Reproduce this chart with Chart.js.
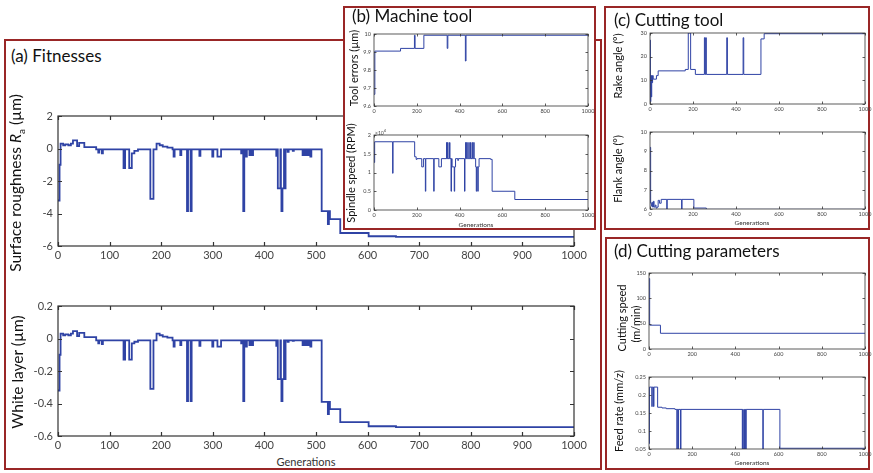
<!DOCTYPE html>
<html>
<head>
<meta charset="utf-8">
<script src="https://cdn.jsdelivr.net/npm/chart.js@4"></script>
<style>
  body { margin: 0; width: 873px; height: 473px; background: #fff; position: relative; overflow: hidden; font-family: Lato, 'Open Sans', sans-serif; color: #111; }
  .panel { position: absolute; border: 2px solid #992626; background: #fff; box-sizing: border-box; }
  .ptitle { position: absolute; font-size: 17px; line-height: 1; white-space: nowrap; }
  canvas { position: absolute; }
  .ytitle { position: absolute; white-space: nowrap; line-height: 1; transform: translate(-50%, -50%) rotate(-90deg); }
  .xtitle { position: absolute; white-space: nowrap; line-height: 1; transform: translate(-50%, -50%); color: #333; }
  .big { font-size: 15.5px; }
  .small { font-size: 11px; }
</style>
</head>
<body>

<div class="panel" style="left:4px;top:39px;width:598px;height:431px"></div>
<div class="ptitle" style="left:11px;top:47px">(a) Fitnesses</div>
<canvas id="c-ra"></canvas>
<canvas id="c-wl"></canvas>
<div class="ytitle big" style="left:17px;top:183px">Surface roughness <i>R</i><sub style="font-size:10px">a</sub> (µm)</div>
<div class="ytitle big" style="left:18px;top:372px">White layer (µm)</div>
<div class="xtitle" style="left:306px;top:461px;font-size:11px">Generations</div>

<div class="panel" style="left:343px;top:6px;width:253px;height:224px"></div>
<div class="ptitle" style="left:352px;top:7px">(b) Machine tool</div>
<canvas id="c-err"></canvas>
<canvas id="c-spd"></canvas>
<div class="ytitle small" style="left:353px;top:68px">Tool errors (µm)</div>
<div class="ytitle small" style="left:350px;top:173px">Spindle speed (RPM)</div>
<div style="position:absolute;left:375px;top:129px;font-size:5px;color:#444;line-height:1">×10<sup style="font-size:4px">4</sup></div>
<div class="xtitle" style="left:476px;top:225px;font-size:6.5px">Generations</div>

<div class="panel" style="left:604px;top:6px;width:266px;height:224px"></div>
<div class="ptitle" style="left:614px;top:11px">(c) Cutting tool</div>
<canvas id="c-rake"></canvas>
<canvas id="c-flank"></canvas>
<div class="ytitle small" style="left:617px;top:66px">Rake angle (°)</div>
<div class="ytitle small" style="left:617px;top:169px">Flank angle (°)</div>
<div class="xtitle" style="left:752px;top:223px;font-size:6.5px">Generations</div>

<div class="panel" style="left:605px;top:237px;width:265px;height:233px"></div>
<div class="ptitle" style="left:614px;top:242px">(d) Cutting parameters</div>
<canvas id="c-speed"></canvas>
<canvas id="c-feed"></canvas>
<div class="ytitle small" style="left:621px;top:318px">Cutting speed</div>
<div class="ytitle small" style="left:635px;top:324px">(m/min)</div>
<div class="ytitle small" style="left:618px;top:411px">Feed rate (mm/z)</div>
<div class="xtitle" style="left:752px;top:463px;font-size:6.5px">Generations</div>

<script>
// Each series is a list of generations where the best value changes and the value from there on.

// (a) fitnesses share the same change points
const fitGen = [0, 3, 5, 10, 14, 20, 25, 29, 37, 41, 51, 74, 78, 80, 85, 87, 127, 130, 138, 143, 148, 155,
  179, 185, 191, 197, 203, 212, 222, 224, 226, 237, 239, 250, 252, 257, 259, 274, 276, 299, 301, 309, 316,
  355, 357, 359, 361, 364, 366, 371, 373, 376, 378, 423, 425, 426, 431, 432, 433, 435, 438, 439, 441,
  445, 447, 455, 457, 474, 476, 479, 481, 484, 486, 489, 491, 511, 523, 525, 527, 547, 602, 655, 1000];
const roughness = [-3.2, -1.0, 0.3, 0.2, 0.25, 0.2, 0.3, 0.5, 0.15, 0.35, 0.08, -0.05, -0.25, -0.05, -0.3, -0.05, -1.2, -0.05, -1.2, -0.3, -0.15, -0.05,
  -3.1, -0.05, 0.3, 0.2, 0.12, 0.05, -0.05, -0.5, -0.05, -0.4, -0.05, -3.85, -0.05, -3.85, -0.05, -0.45, -0.05, -0.5, -0.05, -0.5, -0.05,
  -0.3, -0.05, -3.85, -0.05, -0.5, -0.05, -0.4, -0.05, -0.4, -0.05, -0.45, -0.05, -2.45, -0.05, -2.45, -3.85, -2.45, -0.05, -2.45, -0.05,
  -0.2, -0.05, -0.15, -0.05, -0.4, -0.05, -0.4, -0.05, -0.4, -0.05, -0.5, -0.05, -3.85, -4.65, -3.85, -4.35, -5.2, -5.4, -5.44, -5.44];
const whiteLayer = [-0.32, -0.1, 0.03, 0.02, 0.025, 0.02, 0.03, 0.045, 0.015, 0.035, 0.008, -0.011, -0.03, -0.011, -0.035, -0.011, -0.13, -0.011, -0.13, -0.03, -0.02, -0.011,
  -0.31, -0.011, 0.03, 0.02, 0.012, 0.005, -0.011, -0.05, -0.011, -0.04, -0.011, -0.385, -0.011, -0.385, -0.011, -0.045, -0.011, -0.05, -0.011, -0.05, -0.011,
  -0.03, -0.011, -0.385, -0.011, -0.05, -0.011, -0.04, -0.011, -0.04, -0.011, -0.045, -0.011, -0.25, -0.011, -0.25, -0.385, -0.25, -0.011, -0.25, -0.011,
  -0.02, -0.011, -0.015, -0.011, -0.04, -0.011, -0.04, -0.011, -0.04, -0.011, -0.05, -0.011, -0.39, -0.465, -0.39, -0.435, -0.515, -0.54, -0.545, -0.545];

// (b) machine tool
const toolErrGen = [0, 4, 124, 189, 192, 233, 342, 345, 427, 430, 1000];
const toolErr = [9.665, 9.905, 9.92, 9.993, 9.92, 9.993, 9.92, 9.993, 9.85, 9.993, 9.993];
const spindleGen = [0, 3, 87, 89, 190, 197, 201, 223, 231, 240, 242, 279, 281, 303, 315, 339, 341, 344, 346, 353, 355,
  360, 362, 365, 375, 377, 381, 392, 394, 423, 425, 428, 430, 433, 436, 443, 445, 451, 453, 459, 461, 466, 468,
  475, 478, 480, 485, 487, 491, 545, 552, 658, 1000];
const spindle = [12700, 18200, 9800, 18200, 14200, 13500, 13700, 11500, 13700, 5000, 13700, 5000, 13700, 11500, 13700, 18000, 13700, 18000, 13700, 18000, 13700,
  5000, 13700, 11500, 5000, 11500, 13700, 13200, 13700, 5000, 13700, 18000, 13700, 18000, 13700, 18000, 13700, 18000, 13700, 18000, 13700, 18000, 13700,
  11500, 5000, 11500, 5000, 11500, 13700, 13500, 5000, 2800, 2800];

// (c) cutting tool
const rakeGen = [0, 2, 4, 6, 8, 10, 12, 15, 30, 38, 164, 178, 189, 211, 253, 256, 259, 262, 357, 360, 433, 436, 516, 531, 1000];
const rake = [27, 1, 12, 3, 12, 9, 12, 10.5, 12, 14, 14.6, 30, 14.6, 12.5, 28, 12.5, 28, 12.5, 28, 12.5, 28, 12.5, 27.5, 29.7, 29.7];
const flankGen = [0, 3, 6, 9, 12, 16, 19, 24, 28, 33, 38, 44, 52, 78, 80, 147, 149, 204, 262, 1000];
const flank = [9.2, 6.3, 6.15, 6.35, 6.1, 6.4, 6.1, 6.2, 6.05, 6.1, 6.45, 6.3, 6.5, 6.0, 6.5, 6.0, 6.5, 6.05, 5.98, 5.98];

// (d) cutting parameters
const speedGen = [0, 3, 53, 1000];
const speed = [139, 47, 31, 31];
const feedGen = [0, 2, 13, 15, 21, 23, 40, 60, 80, 120, 129, 131, 135, 137, 146, 148,
  432, 434, 436, 440, 442, 446, 448, 450, 527, 529, 606, 1000];
const feed = [0.065, 0.222, 0.168, 0.222, 0.168, 0.222, 0.166, 0.164, 0.162, 0.16, 0.05, 0.16, 0.05, 0.16, 0.05, 0.16,
  0.05, 0.16, 0.05, 0.16, 0.05, 0.16, 0.05, 0.16, 0.05, 0.16, 0.052, 0.052];

// tick values
const genTicksWide = [0, 100, 200, 300, 400, 500, 600, 700, 800, 900, 1000];
const genTicksNarrow = [0, 200, 400, 600, 800, 1000];
const roughTicks = [-6, -4, -2, 0, 2];
const whiteTicks = [-0.6, -0.4, -0.2, 0, 0.2];
const toolErrTicks = [9.6, 9.7, 9.8, 9.9, 10];
const spindleTicks = [0, 5000, 10000, 15000, 20000];
const rakeTicks = [0, 10, 20, 30];
const flankTicks = [6, 7, 8, 9, 10];
const speedTicks = [0, 50, 100, 150];
const feedTicks = [0.05, 0.1, 0.15, 0.2, 0.25];

const LINE = '#2f43a5';
const plain = v => String(v);

// box around the plot area with ticks pointing inward on all four sides
const frame = {
  id: 'frame',
  afterDatasetsDraw(chart, args, opts) {
    const { ctx, chartArea: a, scales: { x, y } } = chart;
    ctx.save();
    ctx.strokeStyle = opts.color;
    ctx.lineWidth = opts.width;
    ctx.strokeRect(a.left, a.top, a.right - a.left, a.bottom - a.top);
    ctx.beginPath();
    x.ticks.forEach(t => {
      const px = Math.round(x.getPixelForValue(t.value)) + 0.5;
      ctx.moveTo(px, a.bottom); ctx.lineTo(px, a.bottom - opts.tick);
      ctx.moveTo(px, a.top); ctx.lineTo(px, a.top + opts.tick);
    });
    y.ticks.forEach(t => {
      const py = Math.round(y.getPixelForValue(t.value)) + 0.5;
      ctx.moveTo(a.left, py); ctx.lineTo(a.left + opts.tick, py);
      ctx.moveTo(a.right, py); ctx.lineTo(a.right - opts.tick, py);
    });
    ctx.stroke();
    ctx.restore();
  }
};

const bigStyle = { yW: 30, xH: 16, padR: 16, fs: 11, xPad: 3, yPad: 5, tick: 4, lw: 1.8, frameW: 1.2, xTicks: genTicksWide };
const smallStyle = { yW: 14, xH: 8, padR: 8, fs: 5.5, xPad: 1.5, yPad: 3, tick: 2.5, lw: 1, frameW: 0.8, xTicks: genTicksNarrow };

function makeChart(id, box, gens, vals, yTicks, st, fmt) {
  const padL = 2, padR = st.padR, padT = 6, padB = 2;
  const W = box.r - box.l + st.yW + padL + padR;
  const H = box.b - box.t + st.xH + padT + padB;
  const c = document.getElementById(id);
  c.width = W; c.height = H;
  c.style.width = W + 'px'; c.style.height = H + 'px';
  c.style.left = (box.l - st.yW - padL) + 'px';
  c.style.top = (box.t - padT) + 'px';

  const font = { size: st.fs, family: 'Lato' };

  new Chart(c, {
    type: 'line',
    data: {
      datasets: [{
        data: gens.map((g, i) => ({ x: g, y: vals[i] })),
        stepped: 'before',
        borderColor: LINE,
        borderWidth: st.lw,
        pointRadius: 0,
        fill: false
      }]
    },
    options: {
      responsive: false,
      animation: false,
      events: [],
      layout: { padding: { left: padL, right: padR, top: padT, bottom: padB } },
      plugins: {
        legend: { display: false },
        tooltip: { enabled: false },
        frame: { tick: st.tick, width: st.frameW, color: '#333' }
      },
      scales: {
        x: {
          type: 'linear', min: 0, max: 1000,
          grid: { display: false, drawTicks: false },
          border: { display: false },
          ticks: { font, color: '#444', padding: st.xPad, maxRotation: 0, autoSkip: false, callback: plain },
          afterBuildTicks: s => { s.ticks = st.xTicks.map(v => ({ value: v })); },
          afterFit: s => { s.height = st.xH; s.paddingLeft = 0; s.paddingRight = 0; }
        },
        y: {
          type: 'linear', min: yTicks[0], max: yTicks[yTicks.length - 1],
          grid: { display: false, drawTicks: false },
          border: { display: false },
          ticks: { font, color: '#444', padding: st.yPad, autoSkip: false, callback: fmt || plain },
          afterBuildTicks: s => { s.ticks = yTicks.map(v => ({ value: v })); },
          afterFit: s => { s.width = st.yW; s.paddingTop = 0; s.paddingBottom = 0; }
        }
      }
    },
    plugins: [frame]
  });
}

makeChart('c-ra', { l: 58, r: 574, t: 116, b: 246 }, fitGen, roughness, roughTicks, bigStyle);
makeChart('c-wl', { l: 58, r: 574, t: 306, b: 436 }, fitGen, whiteLayer, whiteTicks, bigStyle);

makeChart('c-err', { l: 374, r: 588, t: 34, b: 106 }, toolErrGen, toolErr, toolErrTicks, smallStyle);
makeChart('c-spd', { l: 374, r: 588, t: 135, b: 210 }, spindleGen, spindle, spindleTicks, smallStyle, v => String(v / 10000));

makeChart('c-rake', { l: 650, r: 865, t: 33, b: 104 }, rakeGen, rake, rakeTicks, smallStyle);
makeChart('c-flank', { l: 650, r: 865, t: 132, b: 209 }, flankGen, flank, flankTicks, smallStyle);

makeChart('c-speed', { l: 649, r: 865, t: 273, b: 349 }, speedGen, speed, speedTicks, smallStyle);
makeChart('c-feed', { l: 649, r: 865, t: 377, b: 449 }, feedGen, feed, feedTicks, smallStyle);
</script>
</body>
</html>
